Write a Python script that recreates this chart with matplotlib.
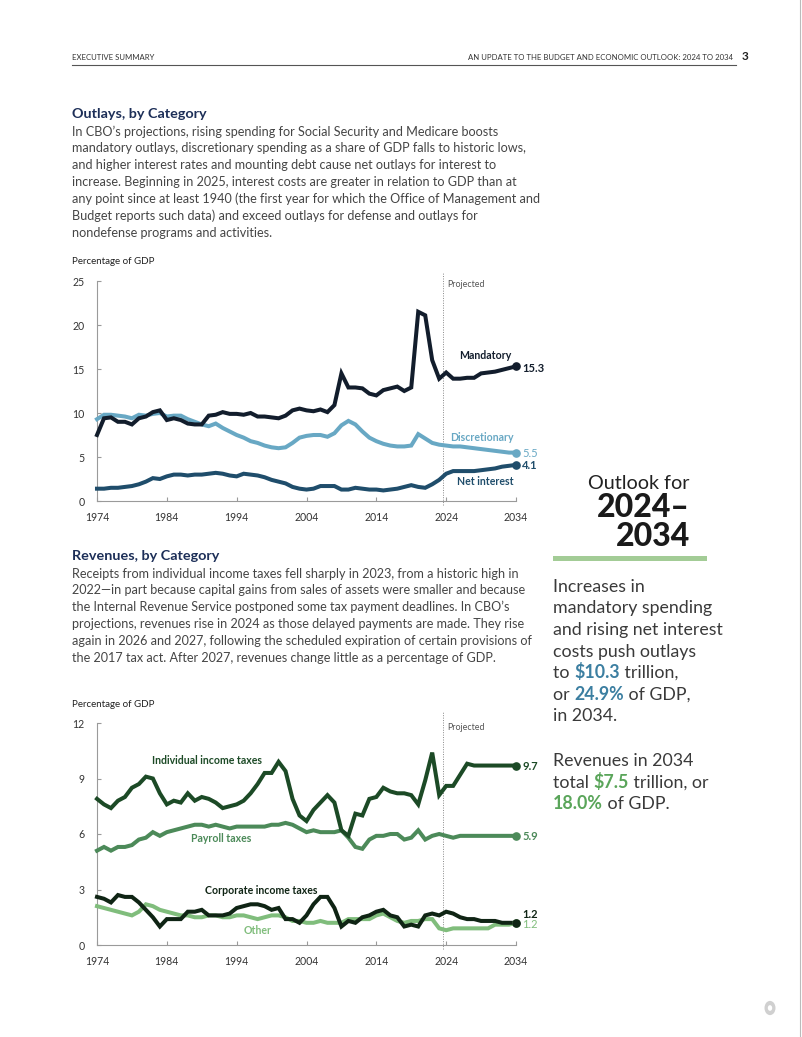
import matplotlib
matplotlib.use("Agg")
import matplotlib.pyplot as plt
from matplotlib.patches import Circle, Rectangle
from matplotlib.lines import Line2D
import numpy as np

# ---------------- data ----------------
years = list(range(1974, 2035))

mandatory = [7.5, 9.4, 9.5, 9.0, 9.0, 8.7, 9.4, 9.6, 10.1, 10.3,
             9.2, 9.4, 9.2, 8.8, 8.7, 8.7, 9.7, 9.8, 10.1, 9.9,
             9.9, 9.8, 10.0, 9.6, 9.6, 9.5, 9.4, 9.7, 10.3, 10.5,
             10.3, 10.2, 10.4, 10.1, 10.9, 14.5, 12.9, 12.9, 12.8, 12.2,
             12.0, 12.6, 12.8, 13.0, 12.5, 12.9, 21.5, 21.1, 16.0, 13.9,
             14.6, 13.9, 13.9, 14.0, 14.0, 14.5, 14.6, 14.7, 14.9, 15.1, 15.3]
discretionary = [9.3, 9.8, 9.8, 9.7, 9.6, 9.4, 9.8, 9.7, 9.9, 10.0,
                 9.6, 9.7, 9.7, 9.3, 9.0, 8.7, 8.5, 8.8, 8.3, 7.9,
                 7.5, 7.2, 6.8, 6.6, 6.3, 6.1, 6.0, 6.1, 6.6, 7.2,
                 7.4, 7.5, 7.5, 7.3, 7.7, 8.6, 9.1, 8.7, 7.9, 7.2,
                 6.8, 6.5, 6.3, 6.2, 6.2, 6.3, 7.6, 7.1, 6.6, 6.4,
                 6.3, 6.2, 6.2, 6.1, 6.0, 5.9, 5.8, 5.7, 5.6, 5.5, 5.5]
net_interest = [1.4, 1.4, 1.5, 1.5, 1.6, 1.7, 1.9, 2.2, 2.6, 2.5,
                2.8, 3.0, 3.0, 2.9, 3.0, 3.0, 3.1, 3.2, 3.1, 2.9,
                2.8, 3.1, 3.0, 2.9, 2.7, 2.4, 2.2, 2.0, 1.6, 1.4,
                1.3, 1.4, 1.7, 1.7, 1.7, 1.3, 1.3, 1.5, 1.4, 1.3,
                1.3, 1.2, 1.3, 1.4, 1.6, 1.8, 1.6, 1.5, 1.9, 2.4,
                3.1, 3.4, 3.4, 3.4, 3.4, 3.5, 3.6, 3.7, 3.9, 4.0, 4.1]

individual = [7.9, 7.6, 7.4, 7.8, 8.0, 8.5, 8.7, 9.1, 9.0, 8.2,
              7.6, 7.8, 7.7, 8.2, 7.8, 8.0, 7.9, 7.7, 7.4, 7.5,
              7.6, 7.8, 8.2, 8.7, 9.3, 9.3, 9.9, 9.4, 7.9, 7.0,
              6.7, 7.3, 7.7, 8.1, 7.7, 6.2, 5.9, 7.1, 7.0, 7.9,
              8.0, 8.5, 8.3, 8.2, 8.2, 8.1, 7.6, 8.9, 10.4, 8.1,
              8.6, 8.6, 9.2, 9.8, 9.7, 9.7, 9.7, 9.7, 9.7, 9.7, 9.7]
payroll = [5.1, 5.3, 5.1, 5.3, 5.3, 5.4, 5.7, 5.8, 6.1, 5.9,
           6.1, 6.2, 6.3, 6.4, 6.5, 6.5, 6.4, 6.5, 6.4, 6.3,
           6.4, 6.4, 6.4, 6.4, 6.4, 6.5, 6.5, 6.6, 6.5, 6.3,
           6.1, 6.2, 6.1, 6.1, 6.1, 6.2, 5.8, 5.3, 5.2, 5.7,
           5.9, 5.9, 6.0, 6.0, 5.7, 5.8, 6.2, 5.7, 5.9, 6.0,
           5.9, 5.8, 5.9, 5.9, 5.9, 5.9, 5.9, 5.9, 5.9, 5.9, 5.9]
corporate = [2.6, 2.5, 2.3, 2.7, 2.6, 2.6, 2.3, 1.9, 1.5, 1.0,
             1.4, 1.4, 1.4, 1.8, 1.8, 1.9, 1.6, 1.6, 1.6, 1.7,
             2.0, 2.1, 2.2, 2.2, 2.1, 1.9, 2.0, 1.4, 1.4, 1.2,
             1.6, 2.2, 2.6, 2.6, 2.0, 1.0, 1.3, 1.2, 1.5, 1.6,
             1.8, 1.9, 1.6, 1.5, 1.0, 1.1, 1.0, 1.6, 1.7, 1.6,
             1.8, 1.7, 1.5, 1.4, 1.4, 1.3, 1.3, 1.3, 1.2, 1.2, 1.2]
other = [2.1, 2.0, 1.9, 1.8, 1.7, 1.6, 1.8, 2.2, 2.1, 1.9,
         1.8, 1.7, 1.6, 1.6, 1.5, 1.5, 1.6, 1.6, 1.5, 1.5,
         1.6, 1.6, 1.5, 1.4, 1.5, 1.6, 1.6, 1.5, 1.3, 1.3,
         1.2, 1.2, 1.3, 1.2, 1.2, 1.2, 1.4, 1.4, 1.4, 1.4,
         1.6, 1.7, 1.5, 1.3, 1.2, 1.3, 1.3, 1.4, 1.4, 0.9,
         0.8, 0.9, 0.9, 0.9, 0.9, 0.9, 0.9, 1.1, 1.1, 1.1, 1.2]

x_ticks = [1974, 1984, 1994, 2004, 2014, 2024, 2034]
top_yticks = [0, 5, 10, 15, 20, 25]
bot_yticks = [0, 3, 6, 9, 12]

# ---------------- style ----------------
W, H = 802, 1037
FONT = ["Lato", "DejaVu Sans"]
plt.rcParams['font.family'] = FONT

C_MAND = "#121d2c"
C_DISC = "#68a8c4"
C_NET = "#1f4d6b"
C_IND = "#1c4a26"
C_PAY = "#4c8a59"
C_CORP = "#0f2414"
C_OTH = "#80bd7c"
C_TXT = "#454545"
C_NAVY = "#1d2f58"

fig = plt.figure(figsize=(W / 100, H / 100), dpi=100)
fig.patch.set_facecolor("white")


def fx(x):
    return x / W


def fy(y):
    return 1 - y / H


def ftext(x, y, s, size, color=C_TXT, weight="normal", ha="left", va="baseline", **kw):
    return fig.text(fx(x), fy(y), s, fontsize=size, color=color, fontweight=weight,
                    ha=ha, va=va, **kw)


renderer = fig.canvas.get_renderer()


def rich(x, y, parts, size):
    cx = x
    for s, color, weight in parts:
        t = ftext(cx, y, s, size, color=color, weight=weight)
        bb = t.get_window_extent(renderer)
        cx += bb.width


# page border & header
fig.add_artist(Line2D([fx(799.5), fx(799.5)], [0, 1], color="#bbbbbb", lw=0.8))
fig.add_artist(Line2D([fx(72), fx(736)], [fy(65), fy(65)], color="#555555", lw=0.8))
ftext(72, 60, "EXECUTIVE SUMMARY", 5.6, color="#333333")
ftext(733, 60, "AN UPDATE TO THE BUDGET AND ECONOMIC OUTLOOK: 2024 TO 2034", 5.6,
      color="#333333", ha="right")
ftext(742, 60, "3", 8.5, color="#222222", weight="bold")

# ---------------- text blocks ----------------
ftext(72, 118, "Outlays, by Category", 10.4, color=C_NAVY, weight="bold")
top_par = [
    "In CBO\u2019s projections, rising spending for Social Security and Medicare boosts",
    "mandatory outlays, discretionary spending as a share of GDP falls to historic lows,",
    "and higher interest rates and mounting debt cause net outlays for interest to",
    "increase. Beginning in 2025, interest costs are greater in relation to GDP than at",
    "any point since at least 1940 (the first year for which the Office of Management and",
    "Budget reports such data) and exceed outlays for defense and outlays for",
    "nondefense programs and activities.",
]
for i, line in enumerate(top_par):
    ftext(72, 135.5 + i * 16.85, line, 9.1)

ftext(72, 560, "Revenues, by Category", 10.4, color=C_NAVY, weight="bold")
bot_par = [
    "Receipts from individual income taxes fell sharply in 2023, from a historic high in",
    "2022\u2014in part because capital gains from sales of assets were smaller and because",
    "the Internal Revenue Service postponed some tax payment deadlines. In CBO\u2019s",
    "projections, revenues rise in 2024 as those delayed payments are made. They rise",
    "again in 2026 and 2027, following the scheduled expiration of certain provisions of",
    "the 2017 tax act. After 2027, revenues change little as a percentage of GDP.",
]
for i, line in enumerate(bot_par):
    ftext(72, 577.5 + i * 16.95, line, 9.1)

ftext(72, 264, "Percentage of GDP", 7, color="#222222")
ftext(72, 707, "Percentage of GDP", 7, color="#222222")

# ---------------- sidebar ----------------
ftext(690, 489, "Outlook for", 14.2, color="#222222", weight="normal", ha="right")
ftext(690, 517, "2024\u2013", 23, color="#1a1a1a", weight="black", ha="right")
ftext(690, 546, "2034", 23, color="#1a1a1a", weight="black", ha="right")
fig.add_artist(Rectangle((fx(553), fy(560.5)), fx(707) - fx(553), 5 / H,
                         facecolor="#a3cc96", edgecolor="none"))
SB = 12.8
C_SB = "#3a3a3a"
C_HB = "#3c7fa1"
C_HG = "#5aa55a"
ftext(553, 592, "Increases in", SB, color=C_SB)
ftext(553, 613.5, "mandatory spending", SB, color=C_SB)
ftext(553, 635, "and rising net interest", SB, color=C_SB)
ftext(553, 656.5, "costs push outlays", SB, color=C_SB)
rich(553, 678, [("to ", C_SB, "normal"), ("$10.3", C_HB, "bold"),
                (" trillion,", C_SB, "normal")], SB)
rich(553, 699.5, [("or ", C_SB, "normal"), ("24.9%", C_HB, "bold"),
                  (" of GDP,", C_SB, "normal")], SB)
ftext(553, 721, "in 2034.", SB, color=C_SB)
ftext(553, 766, "Revenues in 2034", SB, color=C_SB)
rich(553, 787.5, [("total ", C_SB, "normal"), ("$7.5", C_HG, "bold"),
                  (" trillion, or", C_SB, "normal")], SB)
rich(553, 809, [("18.0%", C_HG, "bold"), (" of GDP.", C_SB, "normal")], SB)

# small logo mark bottom right
fig.add_artist(Circle((fx(770), fy(1008)), 5.5 / W, transform=fig.transFigure,
                      facecolor="#d0d0d0", edgecolor="none"))
fig.add_artist(Circle((fx(770), fy(1008)), 2.2 / W, transform=fig.transFigure,
                      facecolor="white", edgecolor="none"))


# ---------------- charts ----------------
def make_axes(top_px, bottom_px):
    ax = fig.add_axes([fx(97), fy(bottom_px), fx(516) - fx(97), (bottom_px - top_px) / H])
    for s in ["top", "right"]:
        ax.spines[s].set_visible(False)
    for s in ["left", "bottom"]:
        ax.spines[s].set_color("#9a9a9a")
        ax.spines[s].set_linewidth(0.8)
    ax.set_xlim(1974, 2034)
    ax.set_xticks(x_ticks)
    ax.tick_params(axis="both", direction="in", length=3, width=0.8, colors="#9a9a9a",
                   labelcolor="#333333", labelsize=7.6)
    ax.tick_params(axis="y", pad=9)
    ax.tick_params(axis="x", pad=8)
    ax.patch.set_alpha(0)
    return ax


LW = 2.9
# top chart
ax1 = make_axes(281, 501)
ax1.set_ylim(0, 25)
ax1.set_yticks(top_yticks)
ax1.axvline(2023.5, ymin=-0.02, ymax=1.04, color="#888888", lw=0.7, ls=(0, (1, 1.5)),
            clip_on=False)
ax1.text(2024.1, 24.6, "Projected", fontsize=6.4, color="#555555", va="center")
for vals, col in [(net_interest, C_NET), (discretionary, C_DISC), (mandatory, C_MAND)]:
    ax1.plot(years, vals, color=col, lw=LW, solid_joinstyle="miter", clip_on=False, zorder=3)
    ax1.plot(years[-1], vals[-1], "o", color=col, ms=5.2, clip_on=False, zorder=4)
ax1.text(2033.3, 16.5, "Mandatory", fontsize=7.6, color=C_MAND, weight="bold", ha="right",
         va="center")
ax1.text(2034.9, mandatory[-1] - 0.2, "15.3", fontsize=8, color=C_MAND, weight="bold",
         va="center")
ax1.text(2033.6, 7.25, "Discretionary", fontsize=7.6, color=C_DISC, weight="bold", ha="right",
         va="center")
ax1.text(2034.9, discretionary[-1] - 0.1, "5.5", fontsize=8, color=C_DISC, va="center")
ax1.text(2034.9, net_interest[-1] - 0.05, "4.1", fontsize=8, color=C_NET, weight="bold",
         va="center")
ax1.text(2033.6, 2.25, "Net interest", fontsize=7.6, color=C_NET, weight="bold", ha="right",
         va="center")

# bottom chart
ax2 = make_axes(723, 945)
ax2.set_ylim(0, 12)
ax2.set_yticks(bot_yticks)
ax2.axvline(2023.5, ymin=-0.02, ymax=1.05, color="#888888", lw=0.7, ls=(0, (1, 1.5)),
            clip_on=False)
ax2.text(2024.1, 11.73, "Projected", fontsize=6.4, color="#555555", va="center")
for vals, col in [(other, C_OTH), (corporate, C_CORP), (payroll, C_PAY), (individual, C_IND)]:
    ax2.plot(years, vals, color=col, lw=LW, solid_joinstyle="miter", clip_on=False, zorder=3)
    ax2.plot(years[-1], vals[-1], "o", color=col, ms=5.2, clip_on=False, zorder=4)
ax2.text(1989.8, 9.95, "Individual income taxes", fontsize=7.6, color=C_IND, weight="bold",
         ha="center", va="center")
ax2.text(2034.9, individual[-1] - 0.05, "9.7", fontsize=8, color=C_IND, weight="bold",
         va="center")
ax2.text(1991.8, 5.73, "Payroll taxes", fontsize=7.6, color=C_PAY, weight="bold",
         ha="center", va="center")
ax2.text(2034.9, payroll[-1] - 0.05, "5.9", fontsize=8, color=C_PAY, weight="bold",
         va="center")
ax2.text(1997.5, 2.97, "Corporate income taxes", fontsize=7.6, color=C_CORP, weight="bold",
         ha="center", va="center")
ax2.text(2034.9, 1.65, "1.2", fontsize=8, color=C_CORP, weight="bold", va="center")
ax2.text(2034.9, 1.1, "1.2", fontsize=8, color=C_OTH, va="center")
ax2.text(1997.0, 0.76, "Other", fontsize=7.6, color=C_OTH, weight="bold", ha="center",
         va="center")

fig.savefig("out.png", dpi=100, facecolor="white")
